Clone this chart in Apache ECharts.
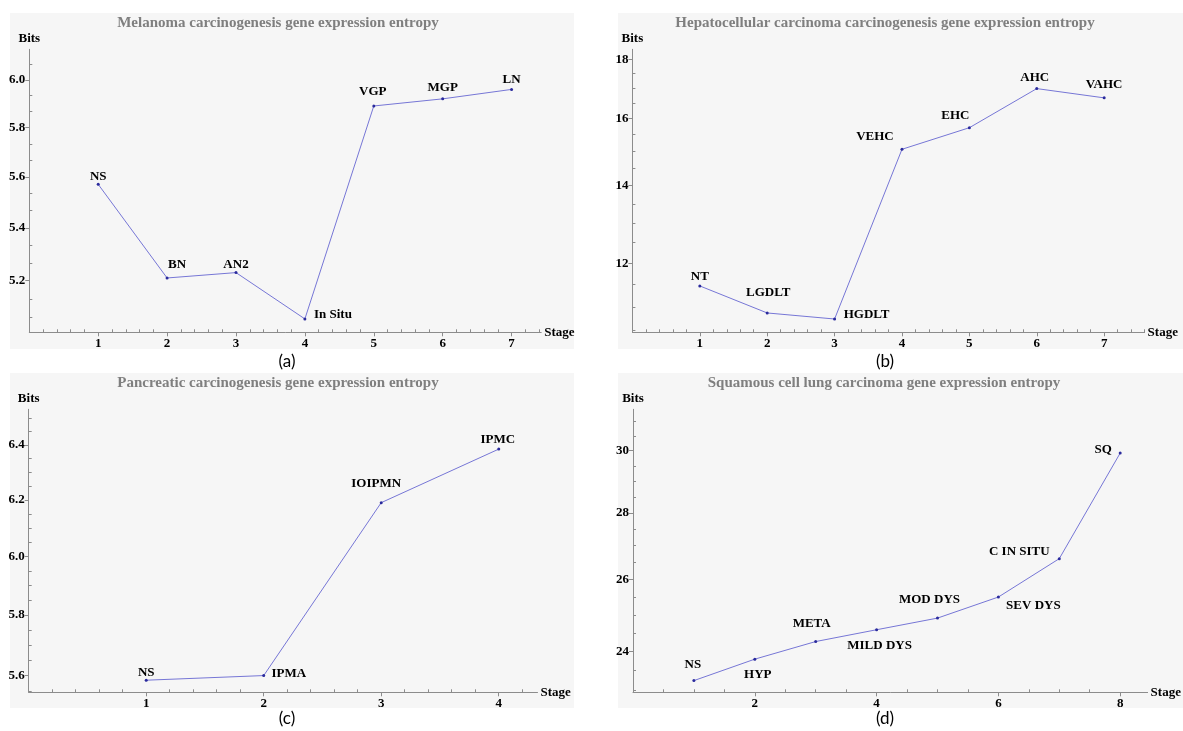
<!DOCTYPE html>
<html>
<head>
<meta charset="utf-8">
<script src="https://cdn.jsdelivr.net/npm/echarts@6/dist/echarts.min.js"></script>
<style>
  html, body { margin: 0; padding: 0; background: #ffffff; }
  #chart { width: 1183px; height: 731px; }
</style>
</head>
<body>
<div id="chart"></div>
<script>
// Gene expression entropy (bits) along each carcinogenesis sequence
const melanomaStages = ['NS', 'BN', 'AN2', 'In Situ', 'VGP', 'MGP', 'LN'];
const melanomaBits = [5.57, 5.21, 5.23, 5.06, 5.89, 5.92, 5.96];

const liverStages = ['NT', 'LGDLT', 'HGDLT', 'VEHC', 'EHC', 'AHC', 'VAHC'];
const liverBits = [11.47, 10.87, 10.74, 15.05, 15.71, 16.98, 16.67];

const pancreasStages = ['NS', 'IPMA', 'IOIPMN', 'IPMC'];
const pancreasBits = [5.585, 5.60, 6.19, 6.385];

const lungStages = ['NS', 'HYP', 'META', 'MILD DYS', 'MOD DYS', 'SEV DYS', 'C IN SITU', 'SQ'];
const lungBits = [23.24, 23.80, 24.27, 24.59, 24.91, 25.50, 26.61, 29.92];

// Tick labels
const melanomaXTicks = [1, 2, 3, 4, 5, 6, 7];
const melanomaYTicks = [5.2, 5.4, 5.6, 5.8, 6.0];
const liverXTicks = [1, 2, 3, 4, 5, 6, 7];
const liverYTicks = [12, 14, 16, 18];
const pancreasXTicks = [1, 2, 3, 4];
const pancreasYTicks = [5.6, 5.8, 6.0, 6.2, 6.4];
const lungXTicks = [2, 4, 6, 8];
const lungYTicks = [24, 26, 28, 30];

// Where each stage name sits relative to its point (px)
const melanomaLabelShift = [[0, -8], [10, -13], [0, -8], [28, -4], [-1, -14], [0, -11], [0, -10]];
const liverLabelShift = [[0, -9], [1, -20], [32, -4], [-27, -13], [-14, -12], [-2, -11], [0, -13]];
const pancreasLabelShift = [[0, -8], [25, -2], [-5, -19], [-1, -9]];
const lungLabelShift = [[-1, -16], [3, 15], [-4, -18], [3, 16], [-8, -18], [35, 9], [-40, -7], [-17, -3]];

const SERIF = '"Liberation Serif", "Times New Roman", serif';
const AXIS_COLOR = '#8c8c8c';
const PANEL_BG = '#f6f6f6';

// Panel frames: the y axis sits on the grid's left edge (stage 0)
const panels = [
  {
    title: 'Melanoma carcinogenesis gene expression entropy', caption: '(a)',
    names: melanomaStages, bits: melanomaBits, shift: melanomaLabelShift,
    xTicks: melanomaXTicks, yTicks: melanomaYTicks, digits: 1,
    bg: [10, 13, 564, 336], titleAt: [278, 23], captionAt: [287, 362],
    grid: { left: 29.3, top: 49.3, width: 511.9, height: 283 },
    x: [0, 7.43], y: [5.012, 6.133], xMinorStep: 0.2, yMinorStep: 0.2 / 3
  },
  {
    title: 'Hepatocellular carcinoma carcinogenesis gene expression entropy', caption: '(b)',
    names: liverStages, bits: liverBits, shift: liverLabelShift,
    xTicks: liverXTicks, yTicks: liverYTicks, digits: 0,
    bg: [618, 13, 565, 336], titleAt: [885, 23], captionAt: [885, 362],
    grid: { left: 632.4, top: 49.3, width: 512.2, height: 283 },
    x: [0, 7.6], y: [10.46, 18.36], xMinorStep: 0.2, yMinorStep: 0.5
  },
  {
    title: 'Pancreatic carcinogenesis gene expression entropy', caption: '(c)',
    names: pancreasStages, bits: pancreasBits, shift: pancreasLabelShift,
    xTicks: pancreasXTicks, yTicks: pancreasYTicks, digits: 1,
    bg: [10, 373, 564, 335], titleAt: [278, 383], captionAt: [287, 719],
    grid: { left: 28.7, top: 409.3, width: 508.8, height: 283 },
    x: [0, 4.33], y: [5.546, 6.534], xMinorStep: 0.2, yMinorStep: 0.05
  },
  {
    title: 'Squamous cell lung carcinoma gene expression entropy', caption: '(d)',
    names: lungStages, bits: lungBits, shift: lungLabelShift,
    xTicks: lungXTicks, yTicks: lungYTicks, digits: 0,
    bg: [618, 373, 565, 335], titleAt: [884, 383], captionAt: [885, 719],
    grid: { left: 633, top: 409.3, width: 514.6, height: 283 },
    x: [0, 8.45], y: [22.94, 31.41], xMinorStep: 0.5, yMinorStep: 0.5
  }
];

// Small subdivision ticks between the labelled ones
function minorTicks(lo, hi, step, majors) {
  const out = [];
  for (let k = Math.ceil(lo / step - 1e-6); k * step <= hi + 1e-6; k++) {
    const v = +(k * step).toFixed(4);
    if (Math.abs(v - lo) < 1e-6) continue;
    if (majors.some(m => Math.abs(m - v) < 1e-4)) continue;
    out.push(v);
  }
  return out;
}

const TICK_TEXT = { fontFamily: SERIF, fontWeight: 'bold', fontSize: 13, color: '#000000' };
const NAME_TEXT = { fontFamily: SERIF, fontWeight: 'bold', fontSize: 13, color: '#000000' };

const grids = [], xAxes = [], yAxes = [], series = [], graphics = [];

panels.forEach((p, i) => {
  grids.push(Object.assign({ containLabel: false, outerBoundsMode: 'none' }, p.grid));

  // main x axis
  xAxes.push({
    gridIndex: i, type: 'value', min: p.x[0], max: p.x[1], position: 'bottom',
    axisLine: { show: true, onZero: false, lineStyle: { color: AXIS_COLOR, width: 1 } },
    axisTick: { show: true, inside: false, length: 4, customValues: p.xTicks, lineStyle: { color: AXIS_COLOR } },
    axisLabel: Object.assign({ show: true, customValues: p.xTicks, margin: 5 }, TICK_TEXT),
    splitLine: { show: false },
    name: 'Stage', nameLocation: 'end', nameGap: 3,
    nameTextStyle: Object.assign({ verticalAlign: 'middle', align: 'left' }, NAME_TEXT)
  });
  // minor x ticks
  xAxes.push({
    gridIndex: i, type: 'value', min: p.x[0], max: p.x[1], position: 'bottom',
    axisLine: { show: false, onZero: false },
    axisTick: { show: true, inside: true, length: 3, customValues: minorTicks(p.x[0], p.x[1], p.xMinorStep, p.xTicks), lineStyle: { color: AXIS_COLOR } },
    axisLabel: { show: false }, splitLine: { show: false }
  });

  // main y axis (logarithmic)
  yAxes.push({
    gridIndex: i, type: 'log', logBase: 10, min: p.y[0], max: p.y[1], position: 'left',
    axisLine: { show: true, onZero: false, lineStyle: { color: AXIS_COLOR, width: 1 } },
    axisTick: { show: true, inside: false, length: 4, customValues: p.yTicks, lineStyle: { color: AXIS_COLOR } },
    axisLabel: Object.assign({
      show: true, customValues: p.yTicks, margin: 4,
      formatter: v => Number(v).toFixed(p.digits)
    }, TICK_TEXT),
    splitLine: { show: false },
    name: 'Bits', nameLocation: 'end', nameGap: 4,
    nameTextStyle: Object.assign({ align: 'center' }, NAME_TEXT)
  });
  // minor y ticks
  yAxes.push({
    gridIndex: i, type: 'log', logBase: 10, min: p.y[0], max: p.y[1], position: 'left',
    axisLine: { show: false, onZero: false },
    axisTick: { show: true, inside: true, length: 3, customValues: minorTicks(p.y[0], p.y[1], p.yMinorStep, p.yTicks), lineStyle: { color: AXIS_COLOR } },
    axisLabel: { show: false }, splitLine: { show: false }
  });

  series.push({
    type: 'line',
    xAxisIndex: 2 * i, yAxisIndex: 2 * i,
    symbol: 'circle', symbolSize: 3, showSymbol: true,
    lineStyle: { color: '#7676d6', width: 1 },
    itemStyle: { color: '#2a2a9c' },
    label: {
      show: true, position: 'inside', formatter: '{b}',
      fontFamily: SERIF, fontWeight: 'bold', fontSize: 13, color: '#000'
    },
    animation: false,
    data: p.bits.map((v, k) => ({
      name: p.names[k],
      value: [k + 1, v],
      label: { offset: p.shift[k] }
    }))
  });

  // panel background, title and caption
  graphics.push({
    type: 'rect', silent: true, z: -10,
    shape: { x: p.bg[0], y: p.bg[1], width: p.bg[2], height: p.bg[3] },
    style: { fill: PANEL_BG }
  });
  graphics.push({
    type: 'text', silent: true, x: p.titleAt[0], y: p.titleAt[1],
    style: {
      text: p.title, fill: '#7f7f7f',
      font: 'bold 15px "Liberation Serif", serif',
      align: 'center', verticalAlign: 'middle', textAlign: 'center', textVerticalAlign: 'middle'
    }
  });
  graphics.push({
    type: 'text', silent: true, x: p.captionAt[0], y: p.captionAt[1],
    style: {
      text: p.caption, fill: '#000',
      font: '17px Lato, "Open Sans", sans-serif',
      align: 'center', verticalAlign: 'middle', textAlign: 'center', textVerticalAlign: 'middle'
    }
  });
});

const chart = echarts.init(document.getElementById('chart'), null, { renderer: 'canvas' });
chart.setOption({
  animation: false,
  backgroundColor: '#ffffff',
  grid: grids,
  xAxis: xAxes,
  yAxis: yAxes,
  series: series,
  graphic: graphics
});
</script>
</body>
</html>
